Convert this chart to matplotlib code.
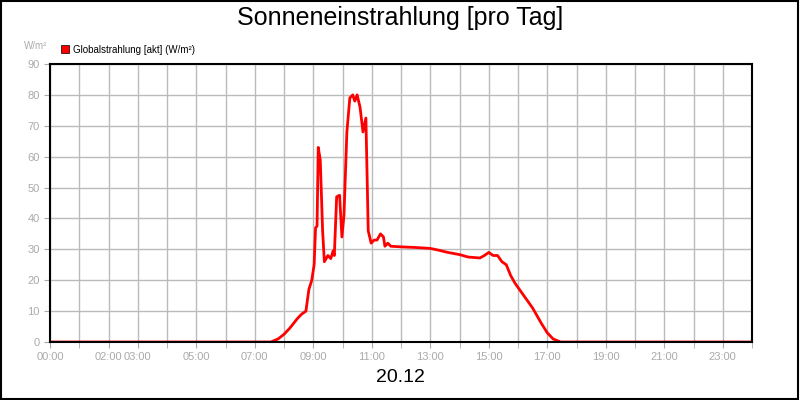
import matplotlib
matplotlib.use("Agg")
from matplotlib import pyplot as plt
from matplotlib.patches import Patch, Rectangle

plt.rcParams['font.family'] = ['Liberation Sans', 'DejaVu Sans']

hours = [0, 7.55, 7.8, 8.0, 8.2, 8.45, 8.6, 8.75, 8.85, 8.95, 9.03, 9.08, 9.13, 9.17, 9.24, 9.32,
         9.38, 9.5, 9.6, 9.68, 9.72, 9.8, 9.9, 9.98, 10.05, 10.15, 10.25, 10.35, 10.42, 10.5,
         10.6, 10.7, 10.8, 10.88, 10.98, 11.08, 11.18, 11.3, 11.4, 11.45, 11.55,
         11.65, 12.0, 12.5, 13.0, 13.3, 13.6, 14.0, 14.3, 14.7, 14.85, 15.0, 15.15, 15.3,
         15.45, 15.6, 15.75, 15.9, 16.2, 16.5, 16.8, 17.0, 17.2, 17.45, 24]
values = [0, 0, 1, 2.5, 4.5, 7.5, 9, 10, 17, 20, 25, 37, 37.5, 63, 59, 36,
          26, 28, 27, 29.5, 28, 47, 47.5, 34, 41, 68, 79, 80, 78, 80,
          76, 68, 72.5, 36, 32, 33, 33, 35, 34, 31, 32, 31, 30.8, 30.6, 30.3, 29.7, 29, 28.3,
          27.5, 27.2, 28, 29, 28, 28, 26, 25, 21.5, 19, 15, 11, 6, 3, 1, 0, 0]
tick_pos = [0, 2, 3, 5, 7, 9, 11, 13, 15, 17, 19, 21, 23]
tick_lab = ["%02d:00" % h for h in tick_pos]

fig = plt.figure(figsize=(8, 4), dpi=100)
ax = fig.add_axes([50 / 800, 58 / 400, 702 / 800, 278 / 400])
ax.plot(hours, values, color="#ff0000", lw=2)
ax.set_xlim(0, 24)
ax.set_ylim(0, 90)
ax.set_xticks(tick_pos)
ax.set_xticklabels(tick_lab)
ax.set_xticks(range(25), minor=True)
ax.set_yticks(range(0, 91, 10))
ax.grid(True, which="both", color="#bbbbbb", lw=1)
ax.set_axisbelow(True)
ax.tick_params(colors="#aaaaaa", labelsize=8, length=4, which="both")
for s in ax.spines.values():
    s.set_color("black")
    s.set_linewidth(1.5)
fig.text(0.5, 0.955, "Sonneneinstrahlung [pro Tag]", ha="center", va="center", fontsize=18)
fig.text(0.5, 0.055, "20.12", ha="center", va="center", fontsize=14)
fig.text(0.03, 0.885, "W/m²", ha="left", va="center", fontsize=7, color="#aaaaaa")
handle = Patch(facecolor="#ff0000", edgecolor="black", lw=0.5)
ax.legend([handle], ["Globalstrahlung [akt] (W/m²)"], loc="lower left",
          bbox_to_anchor=(0.01, 1.02), frameon=False, fontsize=7,
          handlelength=0.8, handleheight=0.8, borderaxespad=0, handletextpad=0.4)
fig.patches.append(Rectangle((0.001, 0.002), 0.997, 0.995, transform=fig.transFigure,
                             fill=False, edgecolor="black", lw=1.5))
fig.savefig("out.png")
